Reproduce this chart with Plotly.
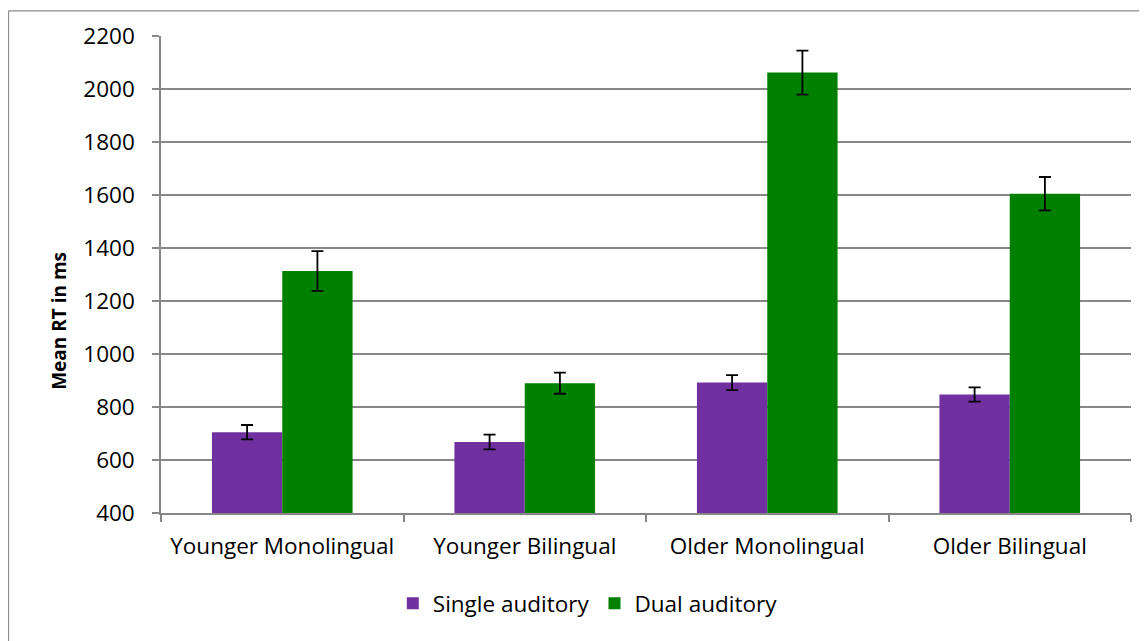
import plotly.graph_objects as go

categories = ["Younger Monolingual", "Younger Bilingual", "Older Monolingual", "Older Bilingual"]
single_vals = [705, 668, 892, 847]
single_err = [27, 28, 28, 27]
dual_vals = [1313, 890, 2062, 1605]
dual_err = [75, 40, 83, 63]
y_ticks = [400, 600, 800, 1000, 1200, 1400, 1600, 1800, 2000, 2200]
y_title = "Mean RT in ms"

FONT = "Open Sans"
GRID = "#878787"
FS = 22.5

fig = go.Figure()
fig.add_trace(go.Bar(
    x=categories, y=single_vals, name="Single auditory",
    marker=dict(color="#7030A0", line=dict(width=0)),
    error_y=dict(type="data", array=single_err, color="black", thickness=1.8, width=6),
))
fig.add_trace(go.Bar(
    x=categories, y=dual_vals, name="Dual auditory",
    marker=dict(color="#008000", line=dict(width=0)),
    error_y=dict(type="data", array=dual_err, color="black", thickness=1.8, width=6),
))

# page body has an 8px margin, so figure coordinates = screen - 8
OFF = 8
W, H = 1147 - OFF, 641 - OFF
L = 161 - OFF
T = 34 - OFF
pw = 1131 - 161
ph = 513 - 34
R = W - L - pw
B = H - T - ph

BORDER = "#8c8c8c"
x_left = (8.5 - 161) / pw
x_right = (1147 - 161) / pw
y_top = 1 + (34 - 8.8) / ph
y_bot = -(645 - 513) / ph

fig.update_layout(
    width=W, height=H,
    margin=dict(l=L, r=R, t=T, b=B),
    paper_bgcolor="white", plot_bgcolor="white",
    barmode="group", bargap=0.42, bargroupgap=0,
    font=dict(family=FONT, size=FS, color="black"),
    showlegend=True,
    legend=dict(orientation="h", x=0.44, xanchor="center", y=-0.145, yanchor="top",
                font=dict(size=FS), itemsizing="constant", traceorder="normal"),
    xaxis=dict(
        type="category", range=[-0.5, 3.5], showline=True, linecolor=GRID, linewidth=1.5,
        ticks="outside", tickson="boundaries", ticklen=7, tickcolor=GRID, tickwidth=1.5,
        showgrid=False, tickfont=dict(size=FS), ticklabelstandoff=12,
    ),
    yaxis=dict(
        range=[400, 2200], tickvals=y_ticks, showgrid=True, gridcolor=GRID, gridwidth=1.5,
        showline=True, linecolor=GRID, linewidth=1.5, ticks="outside", ticklen=7,
        tickcolor=GRID, tickwidth=1.5, zeroline=False, tickfont=dict(size=FS),
        ticklabelstandoff=13,
    ),
    annotations=[dict(
        text=f"<b>{y_title}</b>", textangle=-90, xref="paper", yref="paper",
        x=(59 - 161) / pw, y=(513 - 320) / ph, xanchor="center", yanchor="middle",
        showarrow=False, font=dict(size=19, family=FONT, color="black"),
    )],
    shapes=[
        dict(type="line", xref="paper", yref="paper", x0=x_left, x1=x_left, y0=y_bot, y1=y_top,
             line=dict(color=BORDER, width=1.2), layer="below"),
        dict(type="line", xref="paper", yref="paper", x0=x_left, x1=x_right, y0=y_top, y1=y_top,
             line=dict(color=BORDER, width=1.2), layer="below"),
    ],
)

fig.write_html("out.html")
